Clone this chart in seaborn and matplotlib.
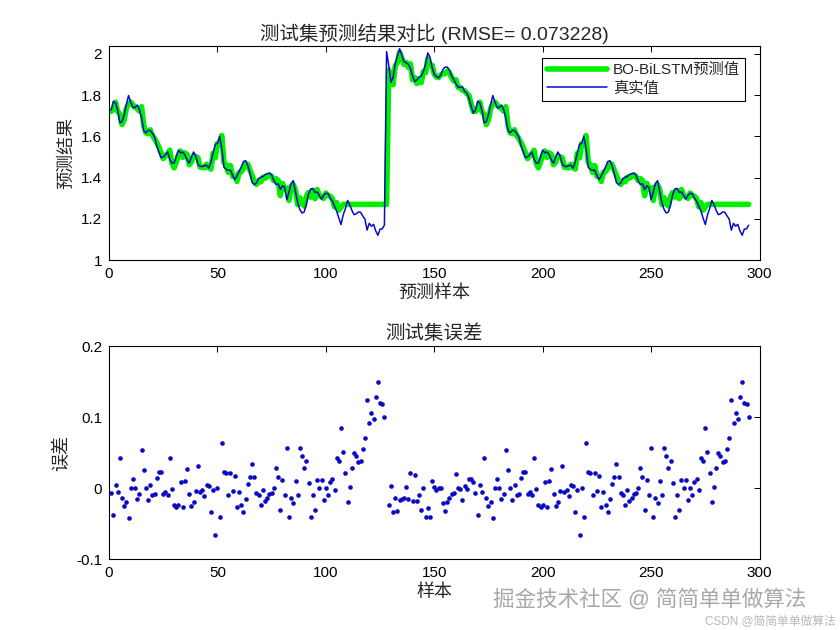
import numpy as np
import matplotlib
matplotlib.use('Agg')
import matplotlib.pyplot as plt
import seaborn as sns

# true values, samples 1..127 (this stretch repeats at 169..295)
true_tail = [1.728, 1.770, 1.762, 1.725, 1.666, 1.671, 1.705, 1.755, 1.798, 1.765,
             1.740, 1.740, 1.752, 1.730, 1.690, 1.628, 1.617, 1.630, 1.628, 1.615,
             1.597, 1.555, 1.525, 1.497, 1.500, 1.510, 1.524, 1.490, 1.470, 1.470,
             1.502, 1.533, 1.520, 1.524, 1.510, 1.485, 1.470, 1.500, 1.524, 1.505,
             1.465, 1.455, 1.453, 1.458, 1.460, 1.446, 1.475, 1.520, 1.562, 1.565,
             1.600, 1.540, 1.450, 1.440, 1.435, 1.436, 1.410, 1.390, 1.408, 1.430,
             1.452, 1.478, 1.482, 1.458, 1.420, 1.376, 1.366, 1.374, 1.395, 1.402,
             1.405, 1.415, 1.419, 1.421, 1.413, 1.385, 1.366, 1.370, 1.342, 1.360,
             1.352, 1.293, 1.330, 1.372, 1.385, 1.330, 1.278, 1.245, 1.228, 1.233,
             1.270, 1.320, 1.345, 1.347, 1.328, 1.330, 1.312, 1.295, 1.315, 1.324,
             1.322, 1.300, 1.285, 1.260, 1.236, 1.203, 1.172,
             1.219, 1.249, 1.289, 1.268, 1.241, 1.220, 1.224, 1.233, 1.232, 1.214,
             1.199, 1.145, 1.178, 1.164, 1.173, 1.141, 1.120, 1.150, 1.151, 1.169]

# true values, samples 128..168
true_head = [2.011, 1.945, 1.862, 1.885, 1.955, 1.990, 2.025, 1.995, 1.963, 1.957,
             1.950, 1.930, 1.892, 1.866, 1.874, 1.888, 1.892, 1.915, 1.950, 2.005,
             1.985, 1.935, 1.900, 1.890, 1.884, 1.898, 1.925, 1.936, 1.936, 1.922,
             1.893, 1.875, 1.855, 1.838, 1.838, 1.840, 1.818, 1.809, 1.785, 1.745,
             1.712]

# errors (prediction - true), same split
err_tail = [-0.007, -0.038, 0.004, -0.005, 0.042, -0.014, -0.025, -0.019, -0.042, 0.001,
            0.013, 0.000, -0.015, -0.008, 0.054, 0.026, 0.000, -0.017, 0.004, -0.010,
            -0.008, 0.015, 0.023, 0.023, -0.008, -0.005, -0.009, 0.043, -0.001, -0.023,
            -0.026, -0.024, 0.009, -0.026, 0.010, 0.027, -0.008, -0.025, -0.019, -0.004,
            0.031, -0.005, -0.002, -0.011, 0.005, 0.003, -0.034, -0.002, -0.066, 0.001,
            -0.040, 0.064, 0.023, 0.022, -0.010, 0.022, -0.004, 0.018, -0.027, -0.005,
            -0.023, -0.034, -0.015, 0.006, 0.016, 0.034, 0.016, -0.007, -0.010, -0.023,
            -0.003, -0.018, -0.014, -0.008, -0.007, 0.000, 0.029, 0.016, -0.030, 0.012,
            -0.010, 0.057, -0.041, -0.014, -0.020, 0.010, -0.009, 0.057, 0.046, 0.029,
            0.038, 0.008, -0.040, -0.010, -0.030, 0.012, 0.000, 0.012, -0.016, 0.001,
            -0.009, 0.009, 0.013, -0.002, 0.042, 0.039, 0.085, 0.051, 0.021, -0.019,
            0.002, 0.029, 0.050, 0.046, 0.037, 0.038, 0.056, 0.071, 0.125, 0.092,
            0.106, 0.097, 0.129, 0.150, 0.120, 0.119, 0.101]

err_head = [-0.741,
            -0.023, 0.003, -0.034, -0.013, -0.032, -0.017, -0.015, -0.014, 0.002, -0.015,
            0.022, -0.018, 0.019, -0.018, -0.009, -0.031, 0.000, -0.041, -0.028, -0.041,
            0.010, 0.002, -0.002, 0.001, 0.000, -0.020, -0.032, -0.019, -0.013, -0.008,
            -0.007, 0.020, 0.000, -0.001, -0.016, 0.003, -0.001, 0.013, 0.013, 0.009]

true_vals = np.array(true_tail + true_head + true_tail)
err_vals = np.array(err_tail + err_head + err_tail)
pred_vals = true_vals + err_vals
samples = np.arange(1, len(true_vals) + 1)

rmse_text = '测试集预测结果对比 (RMSE= 0.073228)'
top_yticks = [1, 1.2, 1.4, 1.6, 1.8, 2]
top_ylabels = ['1', '1.2', '1.4', '1.6', '1.8', '2']
bot_yticks = [-0.1, 0, 0.1, 0.2]
bot_ylabels = ['-0.1', '0', '0.1', '0.2']
xticks = [0, 50, 100, 150, 200, 250, 300]

sns.set_style('white')
plt.rcParams['font.family'] = ['Liberation Sans', 'Noto Sans CJK SC']
plt.rcParams['axes.unicode_minus'] = False

blue = '#0a0ac4'
green = '#00f000'

fig = plt.figure(figsize=(8.4, 6.3), dpi=100)
ax1 = fig.add_axes([0.1298, 0.5873, 0.7744, 0.3389])
ax2 = fig.add_axes([0.1298, 0.1122, 0.7744, 0.3381])

sns.lineplot(x=samples, y=pred_vals, ax=ax1, color=green, linewidth=4,
             label='BO-BiLSTM预测值', errorbar=None)
sns.lineplot(x=samples, y=true_vals, ax=ax1, color=blue, linewidth=1.1,
             label='真实值', errorbar=None)

sns.scatterplot(x=samples, y=err_vals, ax=ax2, color=blue, s=11,
                linewidth=0, legend=False)


def matlab_axes(ax):
    ax.set_xlim(0, 300)
    ax.set_xticks(xticks)
    ax.set_xticklabels([str(t) for t in xticks])
    ax.tick_params(direction='in', top=True, right=True, length=4,
                   width=0.7, labelsize=11, colors='black', pad=5)
    for sp in ax.spines.values():
        sp.set_color('black')
        sp.set_linewidth(0.8)
        sp.set_visible(True)


matlab_axes(ax1)
ax1.set_ylim(1, 2.036)
ax1.set_yticks(top_yticks)
ax1.set_yticklabels(top_ylabels)
ax1.set_title(rmse_text, fontsize=14, pad=5)
ax1.set_xlabel('预测样本', fontsize=13, labelpad=3)
ax1.set_ylabel('预测结果', fontsize=13, labelpad=4)
leg = ax1.legend(loc='upper right', bbox_to_anchor=(0.978, 0.946),
                 borderaxespad=0, frameon=True, fancybox=False,
                 edgecolor='black', framealpha=1, fontsize=11,
                 handlelength=3.9, handletextpad=0.4, borderpad=0.35,
                 labelspacing=0.25)
leg.get_frame().set_linewidth(0.8)

matlab_axes(ax2)
ax2.set_ylim(-0.1, 0.2)
ax2.set_yticks(bot_yticks)
ax2.set_yticklabels(bot_ylabels)
ax2.set_title('测试集误差', fontsize=14, pad=5)
ax2.set_xlabel('样本', fontsize=13, labelpad=3)
ax2.set_ylabel('误差', fontsize=13, labelpad=4)

# watermarks seen on the image
fig.text(0.587, 0.048, '掘金技术社区 @ 简简单单做算法', fontsize=15.5,
         color='#a8a8a8', ha='left', va='center')
fig.text(0.995, 0.012, 'CSDN @简简单单做算法', fontsize=8.5,
         color='#b8b8b8', ha='right', va='center')

fig.savefig('out.png', dpi=100)
